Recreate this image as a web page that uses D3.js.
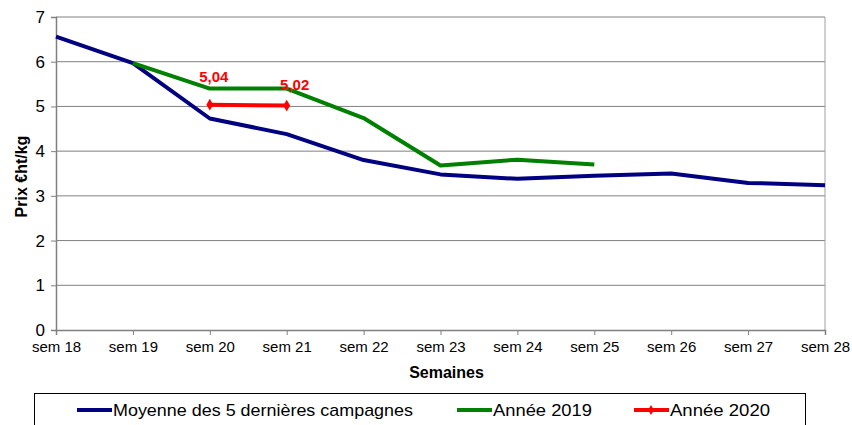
<!DOCTYPE html>
<html>
<head>
<meta charset="utf-8">
<script src="https://cdn.jsdelivr.net/npm/d3@7"></script>
<style>
	body { margin: 0; background: #fff; }
	svg text { font-family: "Liberation Sans", Arial, sans-serif; }
</style>
</head>
<body>
<div id="chart"></div>
<script>
const weeks = ["sem 18", "sem 19", "sem 20", "sem 21", "sem 22", "sem 23", "sem 24", "sem 25", "sem 26", "sem 27", "sem 28"];
const yTicks = [0, 1, 2, 3, 4, 5, 6, 7];

const moyenne = [6.56, 5.97, 4.73, 4.38, 3.80, 3.48, 3.38, 3.45, 3.50, 3.29, 3.24];
const annee2019 = [null, 5.97, 5.40, 5.40, 4.74, 3.68, 3.81, 3.70];
const annee2020 = [null, null, 5.04, 5.02];
const labels2020 = ["5,04", "5,02"];

const legendNames = ["Moyenne des 5 dernières campagnes", "Année 2019", "Année 2020"];
const seriesColors = ["#000080", "#008000", "#ff0000"];

const W = 852, H = 425;
const margin = { top: 17, right: 27, bottom: 95, left: 56 };
const width = W - margin.left - margin.right;
const height = H - margin.top - margin.bottom;

const svg = d3.select("#chart").append("svg")
	.attr("width", W)
	.attr("height", H);

const g = svg.append("g")
	.attr("transform", `translate(${margin.left},${margin.top})`);

const x = d3.scalePoint()
	.domain(weeks)
	.range([0, width]);

const y = d3.scaleLinear()
	.domain([0, 7])
	.range([height, 0]);

// grid
g.selectAll(".grid")
	.data(yTicks.slice(1))
	.enter().append("line")
	.attr("x1", 0).attr("x2", width)
	.attr("y1", d => y(d)).attr("y2", d => y(d))
	.attr("stroke", "#808080")
	.attr("stroke-width", 1);

// right border
g.append("line")
	.attr("x1", width).attr("x2", width)
	.attr("y1", 0).attr("y2", height)
	.attr("stroke", "#a0a0a0");

// axes
const axisY = g.append("g")
	.call(d3.axisLeft(y).tickValues(yTicks).tickFormat(d3.format("d")).tickSize(5).tickPadding(6));
axisY.selectAll("text").attr("font-size", 17).attr("fill", "#000");

const axisX = g.append("g")
	.attr("transform", `translate(0,${height})`)
	.call(d3.axisBottom(x).tickSize(5).tickPadding(6));
axisX.selectAll("text").attr("font-size", 15).attr("fill", "#000");

[axisX, axisY].forEach(a => {
	a.select(".domain").attr("stroke", "#808080").attr("stroke-width", 1.5);
	a.selectAll(".tick line").attr("stroke", "#808080");
});

// axis titles
g.append("text")
	.attr("transform", `translate(-29,${height / 2 + 3}) rotate(-90)`)
	.attr("text-anchor", "middle")
	.attr("font-size", 16)
	.attr("font-weight", "bold")
	.text("Prix €ht/kg");

g.append("text")
	.attr("x", x("sem 23") + 6)
	.attr("y", height + 48)
	.attr("text-anchor", "middle")
	.attr("font-size", 16)
	.attr("font-weight", "bold")
	.text("Semaines");

// lines
const line = d3.line()
	.defined(d => d.v != null)
	.x(d => x(d.w))
	.y(d => y(d.v));

[moyenne, annee2019, annee2020].forEach((vals, i) => {
	const pts = vals.map((v, j) => ({ w: weeks[j], v: v }));
	g.append("path")
		.datum(pts)
		.attr("fill", "none")
		.attr("stroke", seriesColors[i])
		.attr("stroke-width", 4)
		.attr("stroke-linejoin", "round")
		.attr("d", line);
});

// 2020 markers and labels
const pts2020 = annee2020.map((v, j) => ({ w: weeks[j], v: v })).filter(d => d.v != null);
g.selectAll(".mk")
	.data(pts2020)
	.enter().append("path")
	.attr("transform", d => `translate(${x(d.w)},${y(d.v)})`)
	.attr("d", d3.symbol(d3.symbolDiamond, 40))
	.attr("fill", "#ff0000");

g.selectAll(".lbl")
	.data(pts2020)
	.enter().append("text")
	.attr("x", (d, i) => x(d.w) + (i === 0 ? 4 : 8))
	.attr("y", (d, i) => y(d.v) - (i === 0 ? 23 : 16))
	.attr("text-anchor", "middle")
	.attr("font-size", 15)
	.attr("font-weight", "bold")
	.attr("fill", "#ff0000")
	.text((d, i) => labels2020[i]);

// legend
const legend = svg.append("g");
legend.append("rect")
	.attr("x", 34.5).attr("y", 393.5)
	.attr("width", 771).attr("height", 40)
	.attr("fill", "#fff")
	.attr("stroke", "#000")
	.attr("stroke-width", 1);

const legendX = [77, 457, 634];
const legendTextW = [300, 99, 100];
legendNames.forEach((name, i) => {
	const lg = legend.append("g").attr("transform", `translate(${legendX[i]},410)`);
	lg.append("line")
		.attr("x1", 0).attr("x2", 35)
		.attr("stroke", seriesColors[i])
		.attr("stroke-width", 4);
	if (i === 2) {
		lg.append("path")
			.attr("transform", "translate(17,0)")
			.attr("d", d3.symbol(d3.symbolDiamond, 30))
			.attr("fill", seriesColors[i]);
	}
	lg.append("text")
		.attr("x", 36)
		.attr("y", 6)
		.attr("font-size", 17)
		.attr("fill", "#000")
		.attr("textLength", legendTextW[i])
		.attr("lengthAdjust", "spacingAndGlyphs")
		.text(name);
});
</script>
</body>
</html>
